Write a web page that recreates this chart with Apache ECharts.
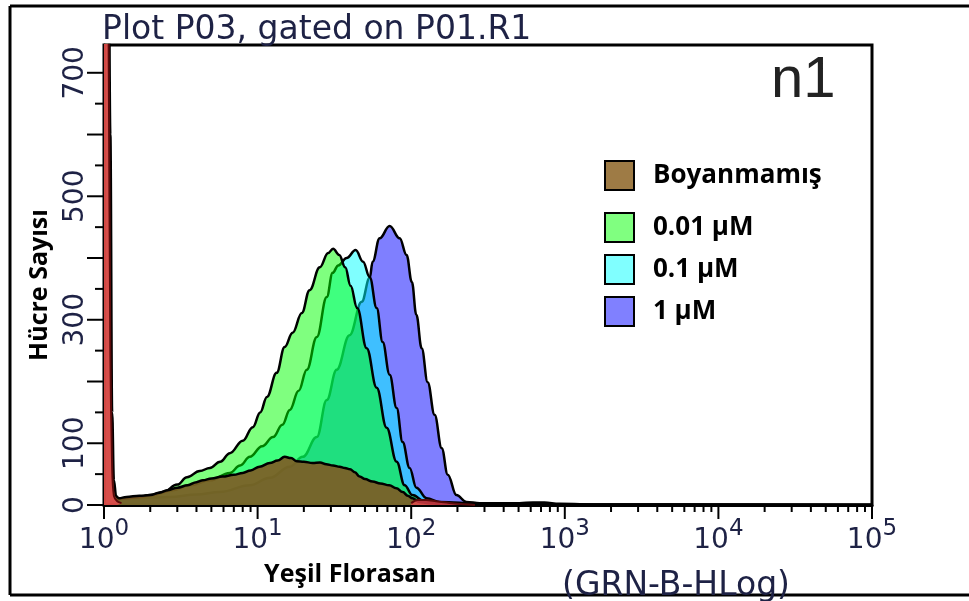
<!DOCTYPE html>
<html>
<head>
<meta charset="utf-8">
<title>Plot P03, gated on P01.R1</title>
<script src="https://cdn.jsdelivr.net/npm/echarts@6/dist/echarts.min.js"></script>
<style>
html, body { margin: 0; padding: 0; background: #fff; }
#chart { width: 969px; height: 601px; }
</style>
</head>
<body>
<div id="chart"></div>
<script>
// histogram traces: [GRN-B-HLog value, cell count]
const boyanmamis = [
    [1.0, 1200], [1.06, 1200], [1.1, 600], [1.13, 150], [1.16, 40], [1.2, 14], [1.25, 11],
    [1.4, 13], [1.7, 15], [2.0, 16], [2.3, 20], [2.6, 24], [3.0, 28], [3.5, 32], [4.0, 37],
    [4.4, 40], [5.0, 43], [5.9, 46], [7.0, 49], [8.0, 52], [9.0, 56], [10.3, 62], [12.0, 68],
    [13.5, 72], [15.0, 78], [16.5, 76], [18.0, 71], [20.0, 70], [22.8, 68], [25.5, 69],
    [28.0, 66], [31.0, 64], [34.2, 62], [37.0, 60], [40.0, 58], [43.0, 53], [46.2, 46],
    [50.0, 42], [56.0, 38], [63.0, 35], [72.0, 32], [80.0, 27], [88.0, 21], [95.0, 15],
    [102, 11], [113, 5], [130, 3], [153, 2], [250, 1], [1000, 0.5], [100000, 0]
]
const um001 = [
    [1.2, 9], [1.4, 11], [1.7, 13], [2.0, 16], [2.42, 21], [3.0, 33], [3.47, 45], [4.2, 55],
    [4.89, 60], [5.7, 70], [6.6, 84], [8.0, 104], [9.3, 126], [10.4, 150], [11.5, 175],
    [13.3, 214], [15.0, 256], [16.9, 279], [19.4, 311], [21.8, 348], [25.4, 385], [28.8, 408],
    [31.0, 415], [34.0, 405], [37.2, 385], [40.3, 355], [44.5, 319], [51.3, 254], [59.6, 190],
    [69.2, 125], [80.4, 70], [90.6, 32], [102, 16], [122, 6], [153, 3], [280, 1.5],
    [1000, 0.5], [100000, 0]
]
const um01 = [
    [1.2, 9], [1.5, 12], [2.0, 15], [2.8, 24], [3.62, 32], [4.89, 40], [6.59, 52], [7.7, 64],
    [8.9, 78], [10.7, 95], [12.6, 110], [14.5, 130], [16.2, 154], [18.5, 185], [20.9, 219],
    [24.3, 272], [28.2, 337], [30.8, 376], [33.5, 388], [38.0, 400], [43.5, 413], [48.6, 394],
    [53.7, 369], [59.6, 319], [65.2, 264], [72.4, 211], [80.4, 157], [87.9, 102], [97.7, 60],
    [108, 28], [126, 11], [153, 5], [280, 2], [1000, 0.5], [100000, 0]
]
const um1 = [
    [1.2, 9], [1.6, 11], [2.69, 13], [4.0, 17], [5.68, 21], [8.9, 32], [12.0, 44], [16.2, 62],
    [19.7, 78], [24.3, 110], [28.2, 170], [32.7, 219], [39.7, 275], [47.6, 329], [53.7, 368],
    [56.1, 394], [62.3, 432], [72.4, 452], [84.1, 432], [93.3, 405], [101, 361], [108, 308],
    [117, 254], [128, 199], [142, 146], [158, 92], [173, 49], [197, 16], [229, 5], [279, 3],
    [400, 3], [507, 3], [620, 4], [736, 4], [922, 2], [1700, 0.5], [100000, 0]
]
// gate debris spike near 10^0 and the small red tail under the peaks
const debris = [
    [1.0, 1200], [1.04, 1200], [1.075, 700], [1.1, 250], [1.13, 60], [1.16, 15], [1.22, 6],
    [1.3, 3], [1.4, '-'], [100, 3], [110, 8], [125, 8], [145, 6], [170, 4], [200, 2], [260, 0]
]

const legendNames = ['Boyanmamış', '0.01 µM', '0.1 µM', '1 µM']
const legendColors = ['#9e7b45', '#80ff80', '#80ffff', '#8080ff']

const xTickValues = [1, 10, 100, 1000, 10000, 100000]
const xTickLabels = ['0', '1', '2', '3', '4', '5']
const xMinorSteps = [2, 3, 4, 5, 6, 7, 8, 9]
const yMajorTicks = [0, 100, 200, 300, 400, 500, 600, 700]
const yMinorTicks = [50, 150, 250, 350, 450, 550, 650]
const yShownLabels = [0, 100, 300, 500, 700]

const navy = '#1e2245'
const xMinorTicks = []
xTickValues.slice(0, -1).forEach(d => xMinorSteps.forEach(m => xMinorTicks.push(d * m)))

const chartInstance = echarts.init(document.getElementById('chart'))

function histSeries(name, data, fill, z) {
    return {
        name: name,
        type: 'line',
        data: data,
        symbol: 'none',
        smooth: 0.4,
        smoothMonotone: 'x',
        z: z,
        lineStyle: { color: '#000', width: 2.5 },
        areaStyle: { color: fill, opacity: 1 },
        emphasis: { disabled: true }
    }
}

const legendText = { fontFamily: 'Open Sans', fontWeight: 'bold', fontSize: 26, color: '#000', padding: [0, 0, 0, 14] }

const baseGraphic = [
    { type: 'line', shape: { x1: 10, y1: 6, x2: 969, y2: 6 }, style: { stroke: '#000', lineWidth: 3 } },
    { type: 'line', shape: { x1: 10, y1: 6, x2: 10, y2: 595 }, style: { stroke: '#000', lineWidth: 3 } },
    { type: 'line', shape: { x1: 10, y1: 595, x2: 969, y2: 595 }, style: { stroke: '#000', lineWidth: 3 } },
    { type: 'text', x: 771, y: 52, style: { text: 'n1', font: '58px "Liberation Sans"', fill: '#222' } },
    {
        type: 'text', x: 40, y: 285, rotation: Math.PI / 2,
        style: { text: 'Hücre Sayısı', font: 'bold 25px "Open Sans"', fill: '#000', align: 'center', verticalAlign: 'middle' }
    },
    {
        type: 'text', x: 350, y: 575,
        style: { text: 'Yeşil Florasan', font: 'bold 25px "Open Sans"', fill: '#000', align: 'center', verticalAlign: 'middle' }
    },
    {
        type: 'text', x: 676, y: 586,
        style: { text: '(GRN-B-HLog)', font: '33px "DejaVu Sans"', fill: navy, align: 'center', verticalAlign: 'middle' }
    }
]

const option = {
    animation: false,
    backgroundColor: '#fff',
    title: {
        text: 'Plot P03, gated on P01.R1',
        left: 102,
        top: 14,
        padding: 0,
        textStyle: { fontFamily: 'DejaVu Sans', fontSize: 33, fontWeight: 'normal', color: navy }
    },
    grid: {
        left: 104, right: 97, top: 45, bottom: 96,
        show: true, borderColor: '#000', borderWidth: 3
    },
    legend: [
        {
            data: [{ name: legendNames[0], itemStyle: { color: legendColors[0] } }],
            left: 604, top: 160, padding: 0,
            icon: 'rect', itemWidth: 29, itemHeight: 29,
            selectedMode: false,
            itemStyle: { borderColor: '#000', borderWidth: 2 },
            textStyle: legendText
        },
        {
            data: legendNames.slice(1).map((n, i) => ({ name: n, itemStyle: { color: legendColors[i + 1] } })),
            left: 604, top: 212, padding: 0, orient: 'vertical', itemGap: 11,
            icon: 'rect', itemWidth: 29, itemHeight: 29,
            selectedMode: false,
            itemStyle: { borderColor: '#000', borderWidth: 2 },
            textStyle: legendText
        }
    ],
    xAxis: {
        type: 'log', logBase: 10, min: 1, max: 100000,
        axisLine: { show: true, onZero: false, lineStyle: { color: '#000', width: 3 } },
        axisTick: { show: false },
        splitLine: { show: false },
        axisLabel: {
            margin: 13,
            formatter: (v) => {
                const i = xTickValues.findIndex(t => Math.abs(Math.log10(t / v)) < 1e-6)
                return i < 0 ? '' : '{b|10}{s|' + xTickLabels[i] + '}'
            },
            rich: {
                b: { fontFamily: 'DejaVu Sans', fontSize: 28, color: navy },
                s: { fontFamily: 'DejaVu Sans', fontSize: 23, color: navy, padding: [0, 0, 22, 0] }
            }
        }
    },
    yAxis: {
        type: 'value', min: 0, max: 745, interval: 100,
        axisLine: { show: true, onZero: false, lineStyle: { color: '#000', width: 3 } },
        axisTick: { show: false },
        splitLine: { show: false },
        axisLabel: {
            rotate: 90, margin: 14,
            fontFamily: 'DejaVu Sans', fontSize: 28, color: navy,
            formatter: (v) => yShownLabels.indexOf(v) >= 0 ? String(v) : ''
        }
    },
    series: [
        histSeries(legendNames[3], um1, 'rgba(0,0,255,0.5)', 2),
        histSeries(legendNames[2], um01, 'rgba(0,255,255,0.5)', 3),
        histSeries(legendNames[1], um001, 'rgba(0,255,0,0.5)', 4),
        histSeries(legendNames[0], boyanmamis, 'rgba(126,89,36,0.9)', 5),
        {
            name: 'P01.R1',
            type: 'line',
            data: debris,
            symbol: 'none',
            smooth: 0.3,
            z: 6,
            lineStyle: { color: '#5a0a0a', width: 2 },
            areaStyle: { color: 'rgba(240,70,80,0.75)', opacity: 1 },
            emphasis: { disabled: true }
        }
    ],
    graphic: baseGraphic
}

chartInstance.setOption(option)

// tick marks, placed with the chart's own axis scales
const finder = { xAxisIndex: 0, yAxisIndex: 0 }
const ticks = []
function addXTicks(values, len) {
    values.forEach(v => {
        const p = chartInstance.convertToPixel(finder, [v, 0])
        ticks.push({ type: 'line', z: 100, shape: { x1: p[0], y1: p[1], x2: p[0], y2: p[1] + len }, style: { stroke: '#000', lineWidth: 2 } })
    })
}
function addYTicks(values, len) {
    values.forEach(v => {
        const p = chartInstance.convertToPixel(finder, [1, v])
        ticks.push({ type: 'line', z: 100, shape: { x1: p[0] - len, y1: p[1], x2: p[0], y2: p[1] }, style: { stroke: '#000', lineWidth: 2 } })
    })
}
addXTicks(xTickValues, 14)
addXTicks(xMinorTicks, 7)
addYTicks(yMajorTicks, 17)
addYTicks(yMinorTicks, 9)

chartInstance.setOption({ graphic: baseGraphic.concat(ticks) })
</script>
</body>
</html>
